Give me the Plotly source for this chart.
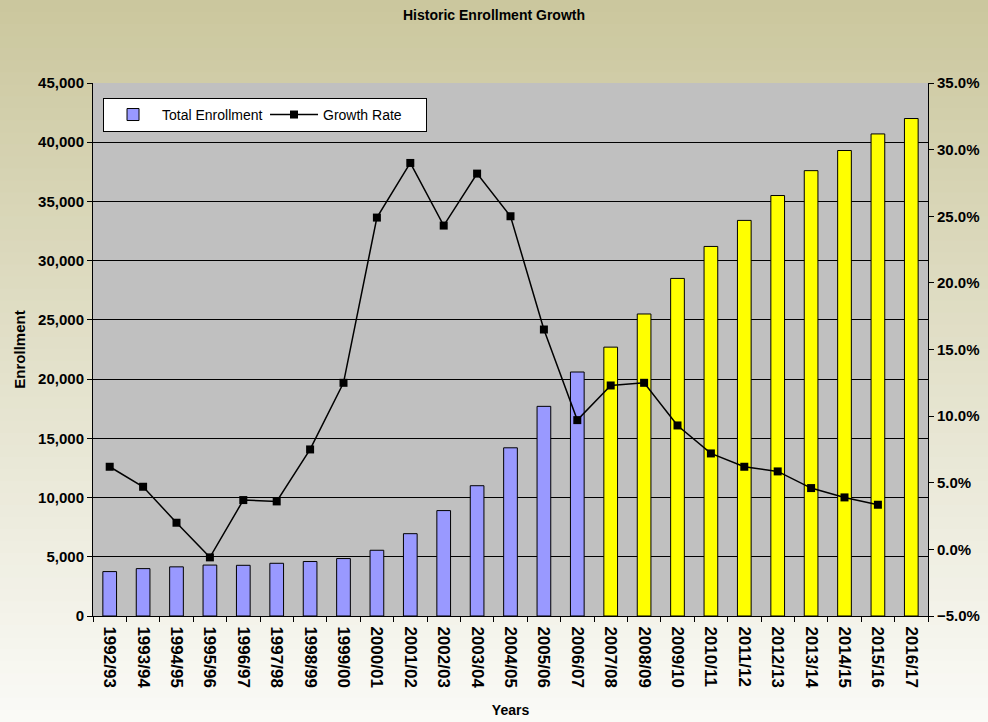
import plotly.graph_objects as go

years = ["1992/93", "1993/94", "1994/95", "1995/96", "1996/97", "1997/98", "1998/99",
         "1999/00", "2000/01", "2001/02", "2002/03", "2003/04", "2004/05", "2005/06",
         "2006/07", "2007/08", "2008/09", "2009/10", "2010/11", "2011/12", "2012/13",
         "2013/14", "2014/15", "2015/16", "2016/17"]
enrollment = [3750, 4000, 4150, 4300, 4280, 4450, 4600, 4850, 5550, 6950, 8900, 11000,
              14200, 17700, 20600, 22700, 25500, 28500, 31200, 33400, 35500, 37600,
              39300, 40700, 42000]
growth_pct = [6.2, 4.7, 2.0, -0.6, 3.7, 3.6, 7.5, 12.5, 24.9, 29.0, 24.3, 28.2, 25.0,
              16.5, 9.7, 12.3, 12.5, 9.3, 7.2, 6.2, 5.85, 4.6, 3.9, 3.35, None]
first_projected = "2007/08"

HIST_COLOR = "#9999FF"
PROJ_COLOR = "#FFFF00"
proj_idx = years.index(first_projected)
bar_colors = [HIST_COLOR if i < proj_idx else PROJ_COLOR for i in range(len(years))]

FONT = "Liberation Sans, Arial, sans-serif"
W, H = 988, 722
ML, MR, MT, MB = 93, 60, 83, 105.5
pw, ph = W - ML - MR, H - MT - MB

fig = go.Figure()
fig.add_trace(go.Bar(
    x=years, y=enrollment, name="Total Enrollment",
    marker=dict(color=bar_colors, line=dict(color="black", width=1)),
    width=0.41, yaxis="y",
))
fig.add_trace(go.Scatter(
    x=years, y=growth_pct, name="Growth Rate", mode="lines+markers",
    line=dict(color="black", width=1.5),
    marker=dict(symbol="square", size=8, color="black"),
    yaxis="y2", connectgaps=False,
))

# background gradient (paper) + plot area fill
shapes = []
top = (203, 199, 158)
bot = (250, 250, 246)
nb = 60
x0p, x1p = -ML / pw, (W - ML) / pw
for i in range(nb):
    t = i / (nb - 1)
    c = tuple(round(top[k] + (bot[k] - top[k]) * t) for k in range(3))
    ya = 1 + MT / ph - i * (H / ph) / nb
    yb = ya - (H / ph) / nb - 0.002
    shapes.append(dict(type="rect", xref="paper", yref="paper", x0=x0p, x1=x1p,
                       y0=yb, y1=ya, line=dict(width=0),
                       fillcolor="rgb(%d,%d,%d)" % c, layer="below"))
shapes.append(dict(type="rect", xref="paper", yref="paper", x0=0, x1=1, y0=0, y1=1,
                   line=dict(width=0), fillcolor="#C0C0C0", layer="below"))

fig.update_layout(
    width=W, height=H,
    margin=dict(l=ML, r=MR, t=MT, b=MB, autoexpand=False),
    paper_bgcolor="rgba(0,0,0,0)", plot_bgcolor="rgba(0,0,0,0)",
    shapes=shapes,
    font=dict(family=FONT, color="black"),
    title=dict(text="<b>Historic Enrollment Growth</b>", font=dict(size=14, family=FONT),
               x=0.5, xref="container", xanchor="center",
               y=1 - 15 / H, yref="container", yanchor="middle"),
    showlegend=True,
    legend=dict(orientation="h", x=0.012, y=0.972, xanchor="left", yanchor="top",
                bgcolor="white", bordercolor="black", borderwidth=1,
                font=dict(size=14, family=FONT), itemwidth=48,
                entrywidth=98, entrywidthmode="pixels"),
    xaxis=dict(type="category", tickangle=90, tickson="boundaries",
               range=[-0.5, len(years) - 0.5],
               ticks="outside", ticklen=5, tickcolor="black",
               ticklabelstandoff=6,
               showline=True, linecolor="black", linewidth=1,
               showgrid=False,
               tickfont=dict(size=17, family=FONT, weight="bold"),
               title=dict(text="<b>Years</b>", font=dict(size=14), standoff=17),
               automargin=False),
    yaxis=dict(range=[0, 45000], dtick=5000, tickformat=",d",
               showgrid=True, gridcolor="black", gridwidth=1,
               showline=True, linecolor="black", linewidth=1,
               ticks="outside", ticklen=5, tickcolor="black",
               tickfont=dict(size=15, family=FONT, weight="bold"),
               title=dict(text="<b>Enrollment</b>", font=dict(size=15), standoff=8),
               zeroline=False, automargin=False),
    yaxis2=dict(range=[-5, 35], dtick=5, tickformat=".1f", ticksuffix="%",
                overlaying="y", side="right", showgrid=False,
                showline=True, linecolor="black", linewidth=1,
                ticks="outside", ticklen=5, tickcolor="black",
                tickfont=dict(size=15, family=FONT, weight="bold"),
                zeroline=False, automargin=False),
)

fig.write_html("out.html", config={"displayModeBar": False},
               post_script="document.body.style.margin='0';")
